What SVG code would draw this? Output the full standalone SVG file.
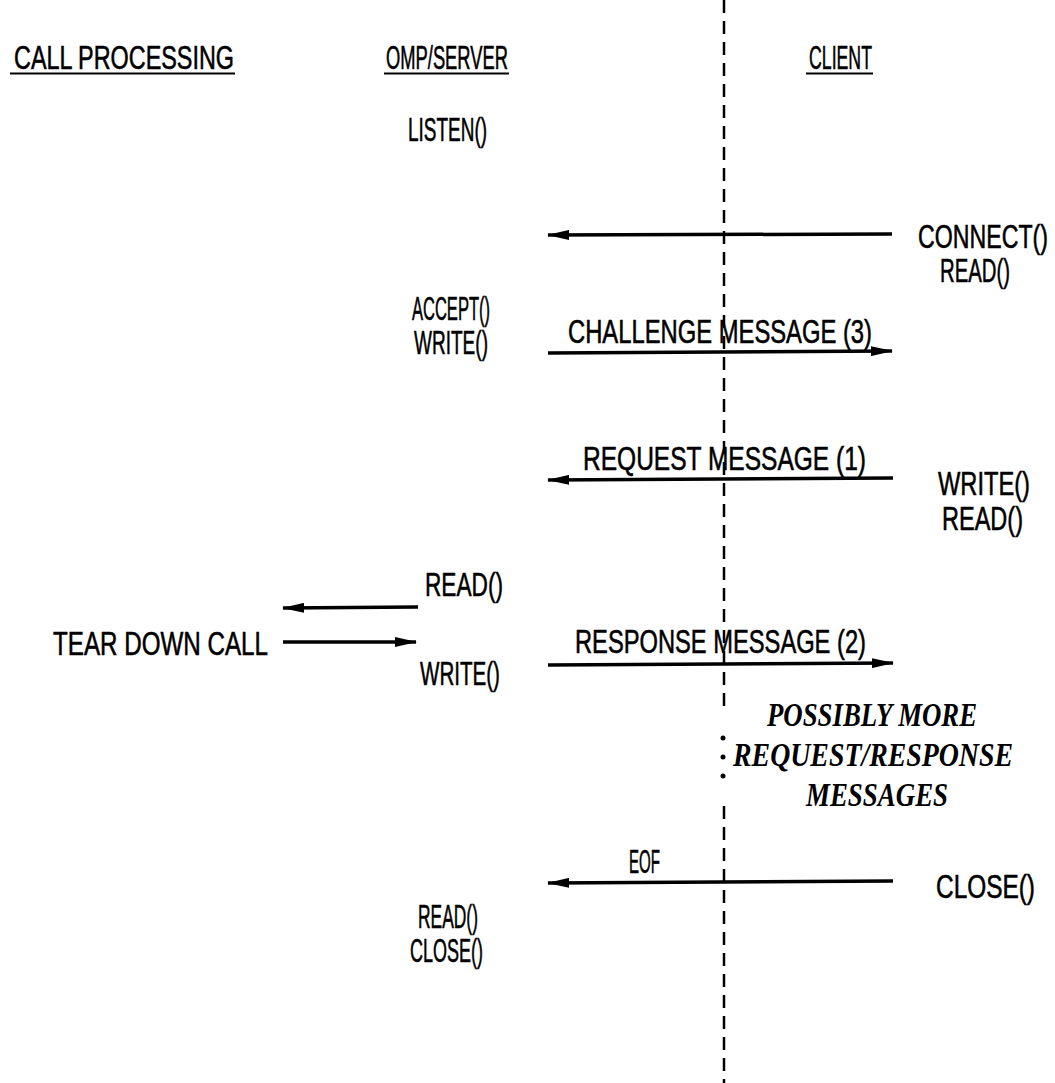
<svg xmlns="http://www.w3.org/2000/svg" width="1055" height="1083" viewBox="0 0 1055 1083">
<style>
.t{font-family:"Liberation Sans","DejaVu Sans",sans-serif;font-size:34px;fill:#000;stroke:#000;stroke-width:0.6}
.i{font-family:"Liberation Serif","DejaVu Serif",serif;font-size:33px;font-weight:bold;font-style:italic;fill:#000}
.u{stroke:#000;stroke-width:2}
.a{stroke:#000;stroke-width:3.5;fill:none;marker-end:url(#ah)}
.d{stroke:#000;stroke-width:2.5;stroke-dasharray:13 8;fill:none}
</style>
<defs>
<marker id="ah" viewBox="0 0 22 10" markerWidth="22" markerHeight="10" refX="21" refY="5" orient="auto" markerUnits="userSpaceOnUse">
<path d="M0,0 L22,5 L0,10 Z" fill="#000"/>
</marker>
</defs>
<rect width="1055" height="1083" fill="#fff"/>
<g id="lifeline">
<path class="d" d="M724,0 V712 M724,806 V1083"/>
<circle cx="723" cy="738" r="2.5" fill="#000"/>
<circle cx="723" cy="757" r="2.5" fill="#000"/>
<circle cx="723" cy="776" r="2.5" fill="#000"/>
</g>
<g id="hdr-call">
<text class="t" transform="translate(14,69) scale(0.68,1)" textLength="323.5" lengthAdjust="spacingAndGlyphs">CALL PROCESSING</text>
<line class="u" x1="10" y1="73.5" x2="235" y2="73.5"/>
</g>
<g id="hdr-server">
<text class="t" transform="translate(386,69) scale(0.68,1)" textLength="179.4" lengthAdjust="spacingAndGlyphs">OMP/SERVER</text>
<line class="u" x1="384" y1="73.5" x2="509" y2="73.5"/>
</g>
<g id="hdr-client">
<text class="t" transform="translate(809,69) scale(0.68,1)" textLength="92.6" lengthAdjust="spacingAndGlyphs">CLIENT</text>
<line class="u" x1="806" y1="73.5" x2="873" y2="73.5"/>
</g>
<g id="listen"><text class="t" transform="translate(408,141) scale(0.68,1)" textLength="116.2" lengthAdjust="spacingAndGlyphs">LISTEN()</text></g>
<g id="client-connect">
<text class="t" transform="translate(918,248) scale(0.68,1)" textLength="191.2" lengthAdjust="spacingAndGlyphs">CONNECT()</text>
<text class="t" transform="translate(940,282) scale(0.68,1)" textLength="102.9" lengthAdjust="spacingAndGlyphs">READ()</text>
</g>
<g id="server-accept">
<text class="t" transform="translate(412,320) scale(0.68,1)" textLength="114.7" lengthAdjust="spacingAndGlyphs">ACCEPT()</text>
<text class="t" transform="translate(414,354) scale(0.68,1)" textLength="108.8" lengthAdjust="spacingAndGlyphs">WRITE()</text>
</g>
<g id="client-write">
<text class="t" transform="translate(938,495) scale(0.68,1)" textLength="135.3" lengthAdjust="spacingAndGlyphs">WRITE()</text>
<text class="t" transform="translate(942,530) scale(0.68,1)" textLength="119.1" lengthAdjust="spacingAndGlyphs">READ()</text>
</g>
<g id="server-read"><text class="t" transform="translate(425,596) scale(0.68,1)" textLength="114.7" lengthAdjust="spacingAndGlyphs">READ()</text></g>
<g id="teardown"><text class="t" transform="translate(53,655) scale(0.68,1)" textLength="316.2" lengthAdjust="spacingAndGlyphs">TEAR DOWN CALL</text></g>
<g id="server-write"><text class="t" transform="translate(420,685) scale(0.68,1)" textLength="117.6" lengthAdjust="spacingAndGlyphs">WRITE()</text></g>
<g id="possibly">
<text class="i" transform="translate(767,726) scale(0.82,1)" textLength="256.1" lengthAdjust="spacingAndGlyphs">POSSIBLY MORE</text>
<text class="i" transform="translate(733,766) scale(0.82,1)" textLength="341.5" lengthAdjust="spacingAndGlyphs">REQUEST/RESPONSE</text>
<text class="i" transform="translate(806,806) scale(0.82,1)" textLength="173.2" lengthAdjust="spacingAndGlyphs">MESSAGES</text>
</g>
<g id="client-close"><text class="t" transform="translate(936,898) scale(0.68,1)" textLength="145.6" lengthAdjust="spacingAndGlyphs">CLOSE()</text></g>
<g id="server-close">
<text class="t" transform="translate(418,928) scale(0.68,1)" textLength="88.2" lengthAdjust="spacingAndGlyphs">READ()</text>
<text class="t" transform="translate(410,962) scale(0.68,1)" textLength="107.4" lengthAdjust="spacingAndGlyphs">CLOSE()</text>
</g>
<g id="connectors">
<line class="a" x1="892" y1="234" x2="548" y2="235"/>
<line class="a" x1="548" y1="353" x2="892" y2="351"/>
<text class="t" transform="translate(568,343) scale(0.68,1)" textLength="447.1" lengthAdjust="spacingAndGlyphs">CHALLENGE MESSAGE (3)</text>
<line class="a" x1="893" y1="478" x2="548" y2="480"/>
<text class="t" transform="translate(583,470) scale(0.68,1)" textLength="416.2" lengthAdjust="spacingAndGlyphs">REQUEST MESSAGE (1)</text>
<line class="a" x1="418" y1="607" x2="283" y2="608"/>
<line class="a" x1="283" y1="642" x2="416" y2="642"/>
<line class="a" x1="548" y1="665" x2="893" y2="663"/>
<text class="t" transform="translate(575,653) scale(0.68,1)" textLength="427.9" lengthAdjust="spacingAndGlyphs">RESPONSE MESSAGE (2)</text>
<line class="a" x1="893" y1="881" x2="548" y2="883"/>
<text class="t" transform="translate(629,873) scale(0.68,1)" textLength="45.6" lengthAdjust="spacingAndGlyphs">EOF</text>
</g>
</svg>
